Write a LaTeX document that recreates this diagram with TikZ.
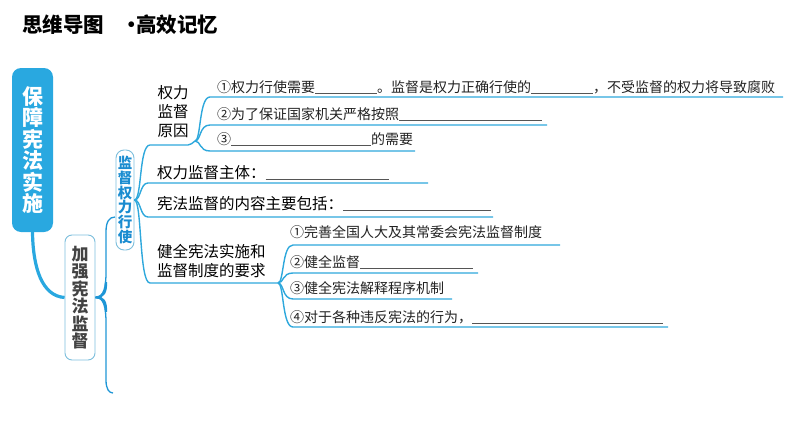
\documentclass[tikz,border=0pt]{standalone}
\usepackage{fontspec}
\newfontfamily\cjk{Noto Sans CJK SC}
\definecolor{rootblue}{HTML}{29A8E0}
\definecolor{lineblue}{HTML}{2EA8DC}
\definecolor{braceblue}{HTML}{1E96D6}
\definecolor{boxedge}{HTML}{7CBEDC}
\definecolor{txtblue}{HTML}{1A8CD0}
\definecolor{txt}{HTML}{222222}
\definecolor{blankgray}{HTML}{555555}
\newcommand\blnk[1]{\textcolor{blankgray}{\rule[-1.5pt]{#1pt}{0.9pt}}}
\tikzset{
  br/.style={draw=lineblue, line width=1.4},
  brc/.style={draw=braceblue, line width=1.3},
  lvlthree/.style={font=\cjk\fontsize{14}{16}\selectfont, anchor=base west, inner sep=0, text=txt},
  lvltwo/.style={font=\cjk\fontsize{15.5}{18.5}\selectfont, inner sep=0, text=black},
  ttl/.style={inner sep=0, font=\cjk\bfseries\fontsize{20.5}{22}\selectfont},
}
\begin{document}
\begin{tikzpicture}[x=1pt,y=-1pt]
\useasboundingbox (0,0) rectangle (794,447);
% title
\node[ttl, anchor=west] (t1) at (22,25) {思维导图};
\node[ttl, anchor=west] (t2) at (121.5,25) {·\kern-6pt 高效记忆};
% root box
\node[fill=rootblue, rounded corners=9, minimum width=41, minimum height=164, inner sep=0,
      text=white, font=\cjk\bfseries\fontsize{21}{21.5}\selectfont, align=center] (root) at (32.5,150)
      {保\\障\\宪\\法\\实\\施};
% jq box
\node[draw=boxedge, line width=0.9, rounded corners=7, minimum width=30, minimum height=125, inner sep=0,
      text=txt!85, font=\cjk\bfseries\fontsize{17}{17.5}\selectfont, align=center] (jq) at (80,297.5)
      {加\\强\\宪\\法\\监\\督};
% jd box
\node[draw=boxedge, line width=0.9, rounded corners=8, minimum width=18, minimum height=100, inner sep=0,
      text=txtblue, font=\cjk\bfseries\fontsize{14.5}{14.8}\selectfont, align=center] (jd) at (125,200)
      {监\\督\\权\\力\\行\\使};
% root -> jq
\draw[rootblue, line width=3.2] (root.south) .. controls (33,268) and (42,296) .. (jq.west);
% brace from jq
\coordinate (jdl) at (115,217);
\coordinate (jqe) at (113,393);
\draw[brc] (jq.east) .. controls (104,297) and (106,287) .. (106,272) -- (106,232) .. controls (106,222) and (109,217) .. (jdl);
\draw[brc] (jq.east) .. controls (104,297) and (106,308) .. (106,323) -- (106,380) .. controls (106,389) and (109,393) .. (jqe);
\draw[braceblue, line width=2.4] (106,282) .. controls (106,292) and (104,297) .. (jq.east) .. controls (104,297) and (106,302) .. (106,312);
% level-2 lines
\coordinate (b1) at (195,141);
\coordinate (b2) at (278,283);
\coordinate (s1) at (150,145);
\coordinate (s2) at (148,183);
\coordinate (e2) at (428,183);
\coordinate (s3) at (148,217);
\coordinate (e3) at (493,217);
\coordinate (s4) at (150,283);
\draw[br] (jd.east) .. controls (142,200) and (139,145) .. (s1) -- (188,145) .. controls (191,145) and (192,143) .. (b1);
\draw[br] (jd.east) .. controls (141,200) and (140,183) .. (s2) -- (e2);
\draw[br] (jd.east) .. controls (141,200) and (140,217) .. (s3) -- (e3);
\draw[br] (jd.east) .. controls (142,200) and (139,283) .. (s4) -- (b2);
\draw[lineblue, line width=2.4] (jd.east) -- +(3,0);
% level-2 texts
\node[lvltwo, align=center] (yy) at (173,111.5) {权力\\[0.5pt]监督\\[0.5pt]原因};
\node[lvltwo, anchor=base west] (zt) at (157,178) {权力监督主体：\blnk{123}};
\node[lvltwo, anchor=base west] (nr) at (157,209) {宪法监督的内容主要包括：\blnk{148}};
\node[lvltwo, align=left, anchor=west] (jqy) at (157,261) {健全宪法实施和\\监督制度的要求};
% group 1
\coordinate (g1a) at (210,97);  \coordinate (g1ae) at (783,97);
\coordinate (g1b) at (210,125); \coordinate (g1be) at (547,125);
\coordinate (g1c) at (210,151); \coordinate (g1ce) at (415,151);
\draw[br] (b1) .. controls (201,141) and (199,97) .. (g1a) -- (g1ae);
\draw[br] (b1) .. controls (201,141) and (199,125) .. (g1b) -- (g1be);
\draw[br] (b1) .. controls (201,141) and (199,151) .. (g1c) -- (g1ce);
\node[lvlthree] (r1) at (217,92) {①权力行使需要\blnk{62}。监督是权力正确行使的\blnk{62}，不受监督的权力将导致腐败};
\node[lvlthree] (r2) at (217,119) {②为了保证国家机关严格按照\blnk{143}};
\node[lvlthree] (r3) at (217,144) {③\blnk{140}的需要};
% group 2
\coordinate (g2a) at (293,245); \coordinate (g2ae) at (560,245);
\coordinate (g2b) at (293,273); \coordinate (g2be) at (478,273);
\coordinate (g2c) at (293,299); \coordinate (g2ce) at (452,299);
\coordinate (g2d) at (293,327); \coordinate (g2de) at (668,327);
\draw[br] (b2) .. controls (284,283) and (282,245) .. (g2a) -- (g2ae);
\draw[br] (b2) .. controls (284,283) and (282,273) .. (g2b) -- (g2be);
\draw[br] (b2) .. controls (284,283) and (282,299) .. (g2c) -- (g2ce);
\draw[br] (b2) .. controls (284,283) and (282,327) .. (g2d) -- (g2de);
\node[lvlthree] (q1) at (290,237) {①完善全国人大及其常委会宪法监督制度};
\node[lvlthree] (q2) at (290,267) {②健全监督\blnk{113}};
\node[lvlthree] (q3) at (290,293) {③健全宪法解释程序机制};
\node[lvlthree] (q4) at (290,322) {④对于各种违反宪法的行为，\blnk{191}};
\end{tikzpicture}
\end{document}
